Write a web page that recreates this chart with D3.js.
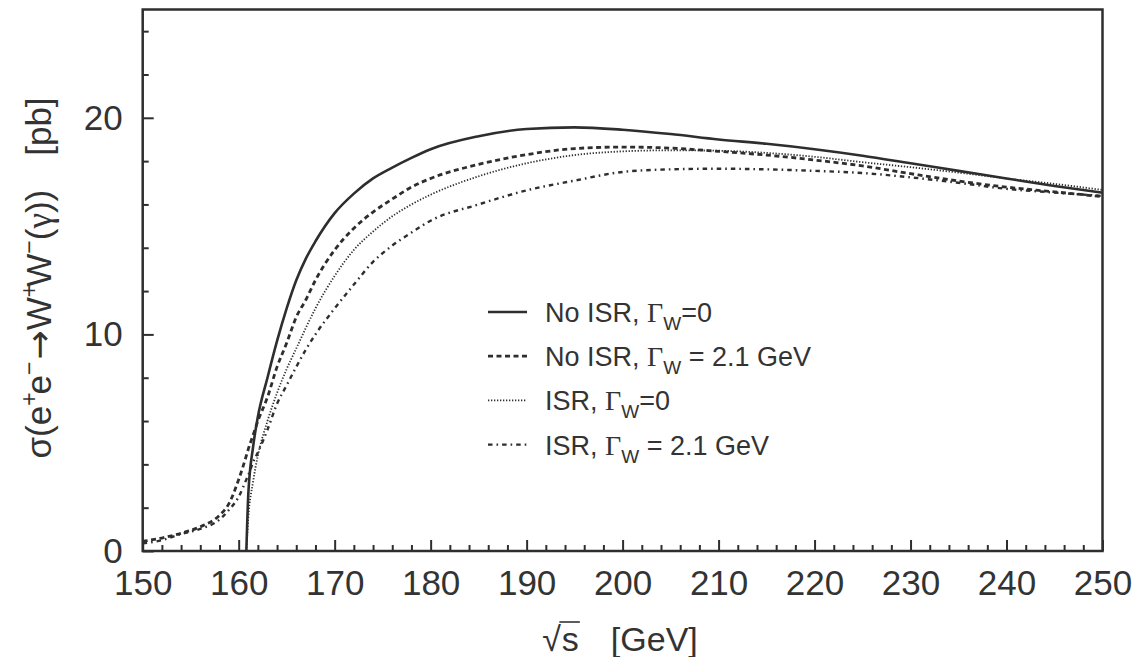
<!DOCTYPE html>
<html>
<head>
<meta charset="utf-8">
<script src="https://cdn.jsdelivr.net/npm/d3@7"></script>
<style>
  html, body { margin: 0; padding: 0; background: #fff; }
  svg { display: block; }
  text { font-family: "Liberation Sans", Arial, Helvetica, sans-serif; fill: #333; }
</style>
</head>
<body>
<svg id="chart" width="1139" height="657"></svg>
<script>
// ---- data ----
const energy = [150, 152, 154, 156, 158, 159, 160, 160.8, 161, 161.5, 162, 163, 164, 165, 166, 167, 168,
  170, 172, 174, 176, 178, 180, 185, 190, 195, 200, 205, 210, 215, 220, 225, 230, 235, 240, 245, 250];

// No ISR, Gamma_W = 0 (solid)
const noIsrG0 = [null, null, null, null, null, null, null, 0, 2.6, 4.8, 6.2, 8.0, 9.7, 11.2, 12.5, 13.5, 14.3,
  15.6, 16.5, 17.2, 17.7, 18.15, 18.55, 19.15, 19.48, 19.56, 19.45, 19.25, 19.0, 18.8, 18.55, 18.25, 17.9, 17.55, 17.2, 16.85, 16.54];

// No ISR, Gamma_W = 2.1 GeV (dashed)
const noIsrG21 = [0.45, 0.6, 0.82, 1.12, 1.65, 2.2, 3.3, 4.4, 4.7, 5.35, 6.0, 7.1, 8.5, 9.6, 10.8, 11.6, 12.5,
  13.9, 14.9, 15.65, 16.25, 16.8, 17.2, 17.85, 18.3, 18.58, 18.65, 18.6, 18.45, 18.28, 18.05, 17.78, 17.42, 17.08, 16.8, 16.58, 16.36];

// ISR, Gamma_W = 0 (dotted)
const isrG0 = [null, null, null, null, null, null, null, 0, 1.5, 3.2, 4.4, 6.0, 7.3, 8.4, 9.35, 10.3, 11.2,
  12.7, 13.9, 14.75, 15.45, 16.0, 16.45, 17.3, 17.9, 18.28, 18.45, 18.5, 18.48, 18.38, 18.2, 17.95, 17.72, 17.47, 17.2, 16.95, 16.67];

// ISR, Gamma_W = 2.1 GeV (dash-dot)
const isrG21 = [0.35, 0.5, 0.78, 1.02, 1.45, 1.9, 2.5, 3.3, 3.5, 4.1, 4.55, 5.6, 6.8, 7.65, 8.5, 9.3, 10.0,
  11.2, 12.3, 13.35, 14.1, 14.7, 15.25, 16.0, 16.65, 17.1, 17.5, 17.62, 17.65, 17.62, 17.55, 17.45, 17.25, 17.0, 16.72, 16.55, 16.39];

const xMajorTicks = [150, 160, 170, 180, 190, 200, 210, 220, 230, 240, 250];
const yMajorTicks = [0, 10, 20];

const seriesNames = ["No ISR, ", "No ISR, ", "ISR, ", "ISR, "];
const seriesSuffix = ["=0", " = 2.1 GeV", "=0", " = 2.1 GeV"];

// ---- layout ----
const svg = d3.select("#chart");
const x = d3.scaleLinear().domain([150, 250]).range([142.7, 1102.5]);
const y = d3.scaleLinear().domain([0, 25]).range([551, 9.5]);
const ink = "#2e2e2e";

const seriesList = [
  { values: noIsrG0, width: 2.6, dash: null },
  { values: noIsrG21, width: 2.8, dash: "5,3.5" },
  { values: isrG0, width: 1.8, dash: "1.3,1.7" },
  { values: isrG21, width: 2.4, dash: "4.5,4,1.6,4" }
];

// curves
const clipId = "plotclip";
svg.append("clipPath").attr("id", clipId).append("rect")
  .attr("x", x(150)).attr("y", y(25)).attr("width", x(250) - x(150)).attr("height", y(0) - y(25));

const line = d3.line()
  .defined(d => d[1] !== null)
  .x(d => x(d[0])).y(d => y(d[1]))
  .curve(d3.curveMonotoneX);

const gCurves = svg.append("g").attr("clip-path", `url(#${clipId})`);
seriesList.forEach(s => {
  gCurves.append("path")
    .datum(energy.map((e, i) => [e, s.values[i]]))
    .attr("d", line)
    .attr("fill", "none")
    .attr("stroke", ink)
    .attr("stroke-width", s.width)
    .attr("stroke-dasharray", s.dash);
});

// axes (inward ticks)
const xMinor = d3.range(150, 251, 2).filter(v => v % 10 !== 0);
const yMinor = d3.range(0, 25.1, 2).filter(v => v % 10 !== 0);

const gx = svg.append("g").attr("transform", `translate(0,${y(0)})`)
  .call(d3.axisBottom(x).tickValues(xMajorTicks).tickSize(-11).tickPadding(19).tickFormat(d3.format("d")));
const gxm = svg.append("g").attr("transform", `translate(0,${y(0)})`)
  .call(d3.axisBottom(x).tickValues(xMinor).tickSize(-6).tickFormat(""));
const gy = svg.append("g").attr("transform", `translate(${x(150)},0)`)
  .call(d3.axisLeft(y).tickValues(yMajorTicks).tickSize(-11).tickPadding(20).tickFormat(d3.format("d")));
const gym = svg.append("g").attr("transform", `translate(${x(150)},0)`)
  .call(d3.axisLeft(y).tickValues(yMinor).tickSize(-6).tickFormat(""));

[gx, gxm, gy, gym].forEach(g => {
  g.select(".domain").remove();
  g.selectAll(".tick line").attr("stroke", ink).attr("stroke-width", 2);
  g.selectAll(".tick text").attr("font-size", 35).attr("fill", "#333")
    .attr("font-family", "Liberation Sans, Arial, sans-serif");
});

// frame
svg.append("rect")
  .attr("x", x(150)).attr("y", y(25))
  .attr("width", x(250) - x(150)).attr("height", y(0) - y(25))
  .attr("fill", "none").attr("stroke", ink).attr("stroke-width", 2.5);

// x title: sqrt(s) with overbar, then [GeV]
const xtBase = 651;
const xt = svg.append("text").attr("x", 620).attr("y", xtBase)
  .attr("text-anchor", "middle").attr("font-size", 34);
xt.append("tspan").text("\u221A");
xt.append("tspan").attr("dx", 1).text("s");
xt.append("tspan").attr("dx", 32).text("[GeV]");
{
  const node = xt.node();
  const rRad = node.getExtentOfChar(0);
  const rS = node.getExtentOfChar(1);
  svg.append("line")
    .attr("x1", rRad.x + rRad.width - 1.5).attr("x2", rS.x + rS.width + 1)
    .attr("y1", xtBase - 29).attr("y2", xtBase - 29)
    .attr("stroke", "#333").attr("stroke-width", 1.6);
}

// y title
const yt = svg.append("text")
  .attr("transform", "translate(51,278) rotate(-90)")
  .attr("text-anchor", "middle").attr("font-size", 35);
const sup = (t) => { yt.append("tspan").attr("dy", -14).attr("font-size", 23).text(t); };
const base = (t, dx) => { yt.append("tspan").attr("dy", 14).attr("dx", dx || 0).attr("font-size", 35).text(t); };
yt.append("tspan").text("\u03C3(e");
sup("+");
base("e", -2);
sup("\u2212");
yt.append("tspan").attr("dy", 14).attr("dx", 2).attr("font-size", 35)
  .attr("font-family", "DejaVu Sans, sans-serif").text("\u2192");
yt.append("tspan").text("W");
sup("+");
base("W", -3);
sup("\u2212");
base("(", 0);
yt.append("tspan").attr("font-family", "Liberation Serif, serif").text("\u03B3");
yt.append("tspan").text("))");
yt.append("tspan").attr("dx", 34).text("[pb]");

// legend
const legendRowY = d3.range(4).map(i => 312 + i * 44.2);
const gl = svg.append("g");
seriesList.forEach((s, i) => {
  const yy = legendRowY[i];
  gl.append("line")
    .attr("x1", 488).attr("x2", 527).attr("y1", yy).attr("y2", yy)
    .attr("stroke", ink).attr("stroke-width", s.width).attr("stroke-dasharray", s.dash);
  const t = gl.append("text").attr("x", 545).attr("y", yy + 10).attr("font-size", 27);
  t.append("tspan").text(seriesNames[i]);
  t.append("tspan").attr("font-family", "Liberation Serif, Times New Roman, serif").attr("font-size", 28).text("\u0393");
  t.append("tspan").attr("dy", 8).attr("font-size", 19).text("W");
  t.append("tspan").attr("dy", -8).attr("font-size", 27).text(seriesSuffix[i]);
});
</script>
</body>
</html>
